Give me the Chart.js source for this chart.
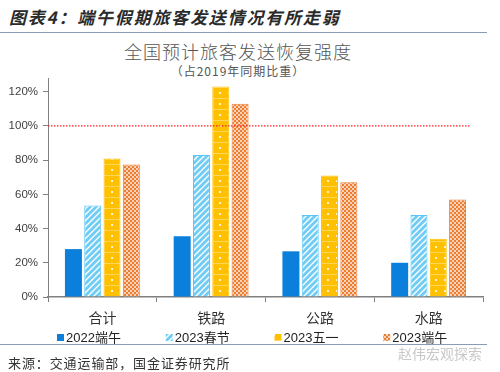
<!DOCTYPE html>
<html>
<head>
<meta charset="utf-8">
<script src="https://cdn.jsdelivr.net/npm/chart.js@4"></script>
<style>
body{margin:0;background:#fff;}
#wrap{position:relative;width:500px;height:372px;overflow:hidden;font-family:"Noto Sans CJK SC",sans-serif;}
#cv{position:absolute;left:0;top:0;}
.hd{position:absolute;left:9px;top:4px;font-size:17px;letter-spacing:1.8px;font-weight:bold;font-style:italic;color:#2a2a2a;white-space:nowrap;}
.rule{position:absolute;left:0;width:487px;height:1px;background:#8a9bb3;}
.ttl{position:absolute;left:0;width:476px;text-align:center;color:#555;white-space:nowrap;}
.src{position:absolute;left:8px;top:353px;font-size:13px;letter-spacing:0.9px;color:#333;white-space:nowrap;}
.wm{position:absolute;left:398px;top:343px;font-size:14px;color:#c8c8c8;white-space:nowrap;}
</style>
</head>
<body>
<div id="wrap">
  <div class="hd">图表4：端午假期旅客发送情况有所走弱</div>
  <div class="rule" style="top:32px"></div>
  <div class="ttl" style="top:38px;font-size:18px;letter-spacing:1px;font-weight:300;">全国预计旅客发送恢复强度</div>
  <div class="ttl" style="top:62px;font-size:12px;letter-spacing:1px;">（占2019年同期比重）</div>
  <canvas id="cv" width="500" height="372"></canvas>
  <div class="rule" style="top:344px"></div>
  <div class="wm">赵伟宏观探索</div>
  <div class="src">来源：交通运输部，国金证券研究所</div>
</div>
<script>
// data (%)
const categories = ["合计", "铁路", "公路", "水路"];
const seriesNames = ["2022端午", "2023春节", "2023五一", "2023端午"];
const dw2022 = [28, 35.5, 26.7, 20];
const spring2023 = [53.5, 83, 48, 48];
const may2023 = [81, 123, 71, 34];
const dw2023 = [77.5, 113, 67, 57];
const refLine = 100;

// fill patterns
function makePattern(w, h, base, draw){
  const c = document.createElement("canvas");
  c.width = w; c.height = h;
  const g = c.getContext("2d");
  g.fillStyle = base; g.fillRect(0, 0, w, h);
  draw(g);
  return g.createPattern(c, "repeat");
}
const stripes = makePattern(6, 6, "#6fcdf5", g=>{
  g.strokeStyle = "#ffffff"; g.lineWidth = 1.4;
  g.beginPath();
  g.moveTo(-1, 1); g.lineTo(1, -1);
  g.moveTo(0, 6); g.lineTo(6, 0);
  g.moveTo(5, 7); g.lineTo(7, 5);
  g.stroke();
});
const dots = makePattern(9, 11, "#ffc000", g=>{
  g.fillStyle = "#fff5cc"; g.fillRect(3, 4, 2, 2);
  g.fillStyle = "rgba(255,255,255,0.35)"; g.fillRect(0, 10, 9, 1);
});
const checks = makePattern(4, 4, "#ed7d31", g=>{
  g.fillStyle = "rgba(255,255,255,0.65)";
  g.fillRect(0, 0, 2, 2); g.fillRect(2, 2, 2, 2);
});

const fills = ["#0a7fdc", stripes, dots, checks];
const borders = ["#0a7fdc", "#5bc6f3", "#ffc000", "#ed7d31"];
const values = [dw2022, spring2023, may2023, dw2023];

const extras = {
  id: "extras",
  afterDatasetsDraw(chart){
    const ctx = chart.ctx, a = chart.chartArea;
    const y = chart.scales.y.getPixelForValue(refLine);
    ctx.save();
    ctx.strokeStyle = "#ff2020"; ctx.lineWidth = 1.2;
    ctx.setLineDash([1.5, 1.5]);
    ctx.beginPath(); ctx.moveTo(a.left, y); ctx.lineTo(a.right - 13, y); ctx.stroke();
    ctx.restore();
  },
  afterDraw(chart){
    const ctx = chart.ctx, a = chart.chartArea;
    const step = (a.right - a.left) / categories.length;
    ctx.save();
    ctx.font = "13px 'Liberation Sans','Noto Sans CJK SC',sans-serif";
    ctx.textBaseline = "middle";
    chart.data.datasets.forEach((ds, i)=>{
      const x = a.left + 9 + i * step;
      ctx.fillStyle = ds.backgroundColor;
      ctx.fillRect(x, 334, 7, 7);
      ctx.fillStyle = "#222";
      ctx.fillText(ds.label, x + 9, 338);
    });
    ctx.restore();
  }
};

new Chart(document.getElementById("cv"), {
  type: "bar",
  data: {
    labels: categories,
    datasets: seriesNames.map((n, i)=>({
      label: n,
      data: values[i],
      backgroundColor: fills[i],
      borderColor: borders[i],
      borderWidth: i === 0 ? 0 : 1,
      categoryPercentage: 0.71,
      barPercentage: 0.88
    }))
  },
  options: {
    responsive: false,
    animation: false,
    layout: {padding: {top: 78, right: 17, left: 0, bottom: 45}},
    plugins: {legend: {display: false}, tooltip: {enabled: false}, title: {display: false}},
    scales: {
      x: {
        grid: {display: true, drawOnChartArea: false, tickLength: 5, color: "#808080", offset: true},
        border: {color: "#808080", width: 1.5},
        ticks: {font: {size: 14, family: "'Noto Sans CJK SC',sans-serif"}, color: "#333", padding: 7},
        afterFit(s){ s.height = 30; }
      },
      y: {
        min: 0, max: 128,
        grid: {display: true, drawOnChartArea: false, tickLength: 5, color: "#808080"},
        border: {color: "#808080", width: 1},
        afterBuildTicks(s){ s.ticks = s.ticks.filter(t=>t.value % 20 === 0); },
        ticks: {stepSize: 20, font: {size: 11.5, family: "'Liberation Sans',sans-serif"}, color: "#404040", padding: 5,
          callback: v => v + "%"},
        afterFit(s){ s.width = 48; }
      }
    }
  },
  plugins: [extras]
});
</script>
</body>
</html>
